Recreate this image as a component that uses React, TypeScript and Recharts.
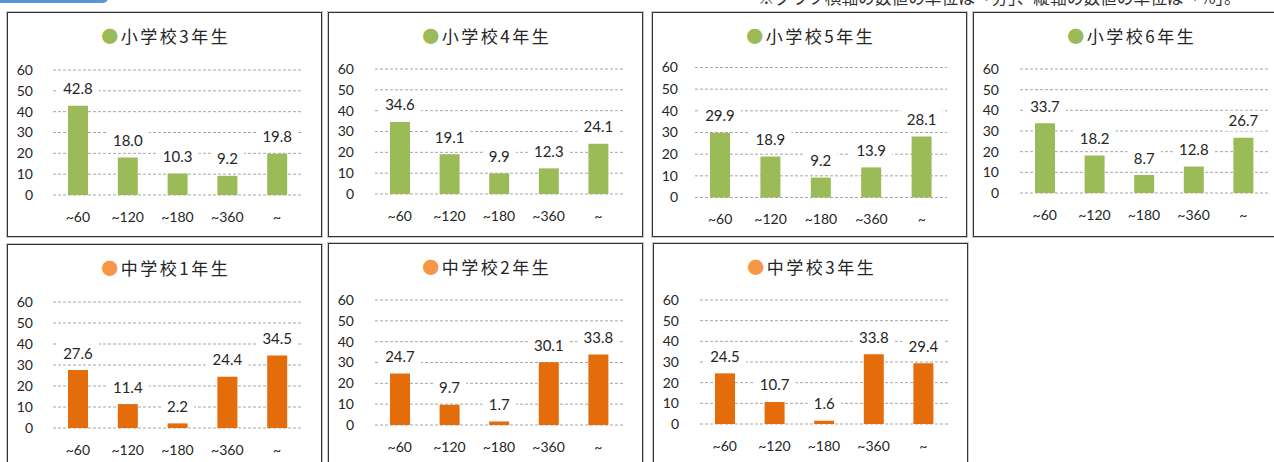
import { BarChart, Bar, XAxis, YAxis, CartesianGrid, LabelList } from "recharts";

// 横軸（分）
const categories = ["~60", "~120", "~180", "~360", "~"];
const yTicks = [0, 10, 20, 30, 40, 50, 60];

// 各学年の割合（%）
const elem3 = [42.8, 18.0, 10.3, 9.2, 19.8];
const elem4 = [34.6, 19.1, 9.9, 12.3, 24.1];
const elem5 = [29.9, 18.9, 9.2, 13.9, 28.1];
const elem6 = [33.7, 18.2, 8.7, 12.8, 26.7];
const junior1 = [27.6, 11.4, 2.2, 24.4, 34.5];
const junior2 = [24.7, 9.7, 1.7, 30.1, 33.8];
const junior3 = [24.5, 10.7, 1.6, 33.8, 29.4];

const titles = ["小学校3年生", "小学校4年生", "小学校5年生", "小学校6年生", "中学校1年生", "中学校2年生", "中学校3年生"];
const series = [elem3, elem4, elem5, elem6, junior1, junior2, junior3];

const GREEN = "#9BBB59";
const ORANGE = "#E46C0A";
const ORANGE_DOT = "#F79646";
const TEXT = "#262626";

const PANEL_W = 315;
const PANEL_H = 225;
const PLOT_RIGHT = 295;

// panel position + plot area (relative to panel box)
const layout = [
  { x: 7, y: 12, pl: 46, pt: 58, pb: 183 },
  { x: 328, y: 12, pl: 47, pt: 57, pb: 182 },
  { x: 652, y: 12, pl: 43, pt: 55.5, pb: 185.5 },
  { x: 973, y: 12, pl: 47, pt: 57, pb: 181 },
  { x: 7, y: 244, pl: 46, pt: 58, pb: 184 },
  { x: 328, y: 243, pl: 47, pt: 57, pb: 182 },
  { x: 653, y: 243, pl: 47, pt: 57, pb: 181 },
];

function textWidth(s: string) {
  let w = 0;
  for (const ch of s) w += ch === "." ? 3.9 : 8.7;
  return w;
}

function ValueLabel(props: any) {
  const { x, y, width, value } = props;
  if (value == null) return null;
  const cx = Number(x) + Number(width) / 2;
  const top = Number(y);
  const text = Number(value).toFixed(1);
  const w = textWidth(text) + 12;
  return (
    <g>
      <rect x={cx - w / 2} y={top - 27} width={w} height={20} fill="#fff" />
      <text x={cx} y={top - 11.5} textAnchor="middle" fontSize={15} fontFamily="Lato" fill={TEXT}>
        {text}
      </text>
    </g>
  );
}

function Panel({ idx }: { idx: number }) {
  const L = layout[idx];
  const isJunior = idx >= 4;
  const data = categories.map((name, i) => ({ name, value: series[idx][i] }));
  return (
    <div
      style={{
        position: "absolute",
        left: L.x,
        top: L.y,
        width: PANEL_W,
        height: PANEL_H,
        boxSizing: "border-box",
        border: "1px solid #333",
        boxShadow: "0 0 0 1px #c8c8c8",
        background: "#fff",
      }}
    >
      <div
        style={{
          position: "absolute",
          left: 0,
          right: 0,
          top: 13,
          paddingLeft: 2.5,
          textAlign: "center",
          fontFamily: "'Noto Sans CJK JP'",
          fontSize: 17,
          lineHeight: "20px",
          letterSpacing: "2.5px",
          color: TEXT,
          whiteSpace: "nowrap",
        }}
      >
        <span style={{ color: isJunior ? ORANGE_DOT : GREEN }}>●</span>
        {titles[idx]}
      </div>
      <div style={{ position: "absolute", left: -1, top: -1 }}>
        <BarChart
          width={PANEL_W}
          height={PANEL_H}
          data={data}
          margin={{ top: L.pt, right: PANEL_W - PLOT_RIGHT, left: 0, bottom: 0 }}
        >
          <CartesianGrid vertical={false} strokeDasharray="3 2" stroke="#a6a6a6" />
          <XAxis
            dataKey="name"
            height={PANEL_H - L.pb}
            tickLine={false}
            axisLine={false}
            interval={0}
            tickMargin={11}
            tick={{ fontSize: 14, fontFamily: "Lato", fill: TEXT }}
          />
          <YAxis
            domain={[0, 60]}
            ticks={yTicks}
            interval={0}
            width={L.pl}
            tickLine={false}
            axisLine={false}
            tickMargin={L.pl - 32}
            tick={{ fontSize: 14, fontFamily: "Lato", fill: TEXT }}
          />
          <Bar dataKey="value" fill={isJunior ? ORANGE : GREEN} barSize={20} isAnimationActive={false}>
            <LabelList dataKey="value" content={ValueLabel} />
          </Bar>
        </BarChart>
      </div>
    </div>
  );
}

export default function App() {
  return (
    <div
      style={{
        position: "absolute",
        left: 0,
        top: 0,
        width: 1274,
        height: 462,
        overflow: "hidden",
        background: "#fff",
      }}
    >
      <div
        style={{
          position: "absolute",
          left: -10,
          top: -20,
          width: 118,
          height: 23,
          borderRadius: 5,
          background: "#5b93db",
        }}
      />
      <div
        style={{
          position: "absolute",
          left: 758,
          top: -11.5,
          fontFamily: "'Noto Sans CJK JP'",
          fontSize: 16.7,
          lineHeight: 1,
          color: "#333",
          whiteSpace: "nowrap",
        }}
      >
        ※グラフ横軸の数値の単位は「分」、縦軸の数値の単位は「%」。
      </div>
      {titles.map((_, i) => (
        <Panel key={i} idx={i} />
      ))}
    </div>
  );
}
